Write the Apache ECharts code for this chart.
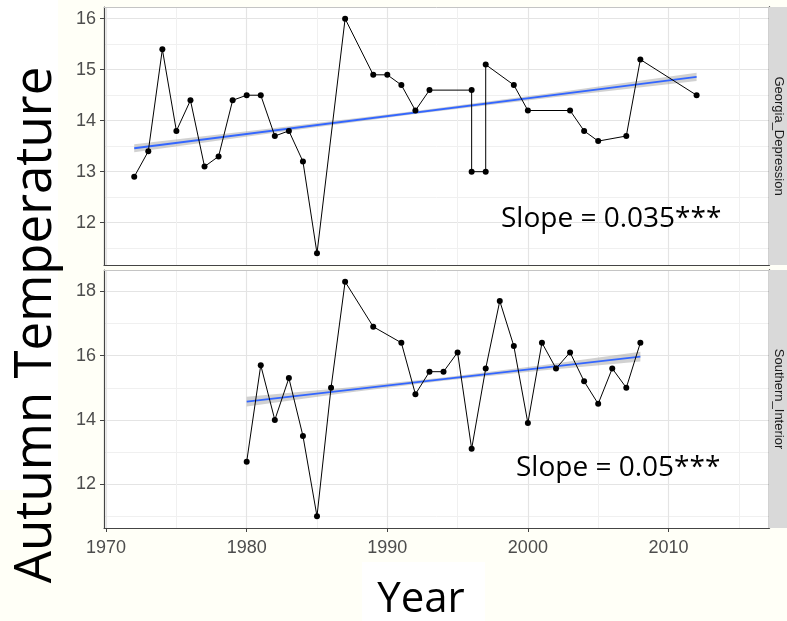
<!DOCTYPE html>
<html>
<head>
<meta charset="utf-8">
<script src="https://cdn.jsdelivr.net/npm/echarts@6/dist/echarts.min.js"></script>
<style>
  html, body { margin: 0; padding: 0; background: #FFFFF7; }
  #chart { width: 787px; height: 621px; }
</style>
</head>
<body>
<div id="chart"></div>
<script>
// Autumn temperature by year, two regions (facets), with linear trend and its confidence band.

// Georgia_Depression
const gdYears = [1972, 1973, 1974, 1975, 1976, 1977, 1978, 1979, 1980, 1981,
                 1982, 1983, 1984, 1985, 1987, 1989, 1990, 1991, 1992, 1993,
                 1996, 1996, 1997, 1997, 1999, 2000, 2003, 2004, 2005, 2007,
                 2008, 2012];
const gdTemps = [12.9, 13.4, 15.4, 13.8, 14.4, 13.1, 13.3, 14.4, 14.5, 14.5,
                 13.7, 13.8, 13.2, 11.4, 16.0, 14.9, 14.9, 14.7, 14.2, 14.6,
                 14.6, 13.0, 13.0, 15.1, 14.7, 14.2, 14.2, 13.8, 13.6, 13.7,
                 15.2, 14.5];
const gdSlope = 0.035;
const gdFitYears = [1972, 2012];
const gdFitStart = 13.46;
const gdBandYears = [1972, 1982, 1992, 2002, 2012];
const gdBandHalf = [0.08, 0.045, 0.03, 0.045, 0.08];

// Southern_Interior
const siYears = [1980, 1981, 1982, 1983, 1984, 1985, 1986, 1987, 1989, 1991,
                 1992, 1993, 1994, 1995, 1996, 1997, 1998, 1999, 2000, 2001,
                 2002, 2003, 2004, 2005, 2006, 2007, 2008];
const siTemps = [12.7, 15.7, 14.0, 15.3, 13.5, 11.0, 15.0, 18.3, 16.9, 16.4,
                 14.8, 15.5, 15.5, 16.1, 13.1, 15.6, 17.7, 16.3, 13.9, 16.4,
                 15.6, 16.1, 15.2, 14.5, 15.6, 15.0, 16.4];
const siSlope = 0.05;
const siFitYears = [1980, 2008];
const siFitStart = 14.57;
const siBandYears = [1980, 1987, 1994, 2001, 2008];
const siBandHalf = [0.15, 0.08, 0.05, 0.08, 0.15];

// Axis ticks and facet names
const xTicks = [1970, 1980, 1990, 2000, 2010];
const gdTicks = [12, 13, 14, 15, 16];
const siTicks = [12, 14, 16, 18];
const panelNames = ['Georgia_Depression', 'Southern_Interior'];
const xTitle = 'Year';
const yTitle = 'Autumn Temperature';

const xRange = [1969.85, 2017.15];
const gdRange = [11.17, 16.23];
const siRange = [10.635, 18.665];

const zip = (xs, ys) => xs.map((x, i) => [x, ys[i]]);
const fitAt = (start, slope, y0, y) => start + slope * (y - y0);

function trendSeries(idx, fitYears, start, slope) {
  return {
    type: 'line', xAxisIndex: idx, yAxisIndex: idx,
    data: fitYears.map(y => [y, fitAt(start, slope, fitYears[0], y)]),
    symbol: 'none', z: 3,
    lineStyle: { color: '#3366FF', width: 1.8 }
  };
}

// Confidence ribbon drawn as one polygon through the axis scales
function bandSeries(idx, bandYears, bandHalf, fitYears, start, slope) {
  const upper = bandYears.map((y, i) => [y, fitAt(start, slope, fitYears[0], y) + bandHalf[i]]);
  const lower = bandYears.map((y, i) => [y, fitAt(start, slope, fitYears[0], y) - bandHalf[i]]);
  return {
    type: 'custom', xAxisIndex: idx, yAxisIndex: idx, z: 2,
    data: [lower[0]],
    renderItem: (params, api) => {
      const pts = upper.map(p => api.coord(p))
        .concat(lower.slice().reverse().map(p => api.coord(p)));
      return { type: 'polygon', shape: { points: pts },
               style: { fill: 'rgba(153,153,153,0.45)' } };
    }
  };
}

function dataSeries(idx, xs, ys) {
  return {
    type: 'line', xAxisIndex: idx, yAxisIndex: idx, data: zip(xs, ys),
    symbol: 'circle', symbolSize: 6, z: 4,
    itemStyle: { color: '#000' },
    lineStyle: { color: '#000', width: 1 }
  };
}

const tickFont = { fontFamily: 'Liberation Sans', color: '#4D4D4D' };
const grid = { color: '#E4E4E4', width: 1.2 };
const minorGrid = { color: '#F0F0F0', width: 1 };
const darkLine = { color: '#444', width: 1.2 };

function mainX(gridIndex, labelled) {
  return {
    type: 'value', gridIndex, min: xRange[0], max: xRange[1], position: 'bottom',
    axisLine: { show: true, onZero: false, lineStyle: darkLine },
    axisTick: labelled ? { show: true, customValues: xTicks, length: 4, lineStyle: { color: '#444' } } : { show: false },
    axisLabel: labelled ? Object.assign({ show: true, customValues: xTicks, fontSize: 18, margin: 11,
                                          formatter: v => String(v) }, tickFont) : { show: false },
    minorTick: { show: false, splitNumber: 2 },
    splitLine: { show: true, lineStyle: grid },
    minorSplitLine: { show: true, lineStyle: minorGrid }
  };
}
function topBorderX(gridIndex) {
  return {
    type: 'value', gridIndex, position: 'top', min: 0, max: 1,
    axisLine: { show: true, onZero: false, lineStyle: { color: '#C4C4C4', width: 1 } },
    axisTick: { show: false }, axisLabel: { show: false }, splitLine: { show: false }
  };
}
function mainY(gridIndex, range, ticks) {
  return {
    type: 'value', gridIndex, min: range[0], max: range[1], position: 'left',
    axisLine: { show: true, onZero: false, lineStyle: darkLine },
    axisTick: { show: true, customValues: ticks, length: 4, lineStyle: { color: '#444' } },
    axisLabel: Object.assign({ customValues: ticks, fontSize: 18, margin: 8,
                               formatter: v => String(v) }, tickFont),
    minorTick: { show: false, splitNumber: 2 },
    splitLine: { show: true, lineStyle: grid },
    minorSplitLine: { show: true, lineStyle: minorGrid }
  };
}
function stripEdgeY(gridIndex) {
  return {
    type: 'value', gridIndex, position: 'right', min: 0, max: 1,
    axisLine: { show: true, onZero: false, lineStyle: { color: '#222', width: 1.4 } },
    axisTick: { show: false }, axisLabel: { show: false }, splitLine: { show: false }
  };
}

const panels = [
  { top: 7, height: 258 },
  { top: 270, height: 258 }
];

function strip(panel, name) {
  return [
    { type: 'rect', shape: { x: 769, y: panel.top, width: 18, height: panel.height },
      style: { fill: '#D9D9D9' }, z: 1 },
    { type: 'text', x: 778.5, y: panel.top + panel.height / 2, rotation: -Math.PI / 2,
      style: { text: name, font: '13px "Liberation Sans"', fill: '#1A1A1A',
               align: 'center', verticalAlign: 'middle' }, z: 2 }
  ];
}

const option = {
  backgroundColor: '#FFFFF7',
  animation: false,
  grid: panels.map(p => ({
    left: 104, width: 665, top: p.top, height: p.height,
    show: true, backgroundColor: '#FFFFFF', borderWidth: 0
  })),
  xAxis: [mainX(0, false), mainX(1, true), topBorderX(0), topBorderX(1)],
  yAxis: [mainY(0, gdRange, gdTicks), mainY(1, siRange, siTicks), stripEdgeY(0), stripEdgeY(1)],
  series: [
    bandSeries(0, gdBandYears, gdBandHalf, gdFitYears, gdFitStart, gdSlope),
    trendSeries(0, gdFitYears, gdFitStart, gdSlope),
    dataSeries(0, gdYears, gdTemps),
    bandSeries(1, siBandYears, siBandHalf, siFitYears, siFitStart, siSlope),
    trendSeries(1, siFitYears, siFitStart, siSlope),
    dataSeries(1, siYears, siTemps)
  ],
  graphic: [
    // white text boxes behind the axis titles
    { type: 'rect', shape: { x: 0, y: 0, width: 58, height: 490 }, style: { fill: '#FFFFFF' }, z: 0 },
    { type: 'rect', shape: { x: 362, y: 562, width: 123, height: 59 }, style: { fill: '#FFFFFF' }, z: 0 },
    ...strip(panels[0], panelNames[0]),
    ...strip(panels[1], panelNames[1]),
    { type: 'text', x: 36, y: 325, rotation: Math.PI / 2,
      style: { text: yTitle, font: '51px "Open Sans"', fill: '#000',
               align: 'center', verticalAlign: 'middle' }, z: 5 },
    { type: 'text', x: 421, y: 600,
      style: { text: xTitle, font: '42px "Open Sans"', fill: '#000',
               align: 'center', verticalAlign: 'middle' }, z: 5 },
    { type: 'text', x: 501, y: 219,
      style: { text: 'Slope = ' + gdSlope + '***', font: '28px "Open Sans"', fill: '#000',
               align: 'left', verticalAlign: 'middle' }, z: 5 },
    { type: 'text', x: 516, y: 468,
      style: { text: 'Slope = ' + siSlope + '***', font: '28px "Open Sans"', fill: '#000',
               align: 'left', verticalAlign: 'middle' }, z: 5 }
  ]
};

const chart = echarts.init(document.getElementById('chart'), null, { renderer: 'canvas' });
chart.setOption(option);
</script>
</body>
</html>
